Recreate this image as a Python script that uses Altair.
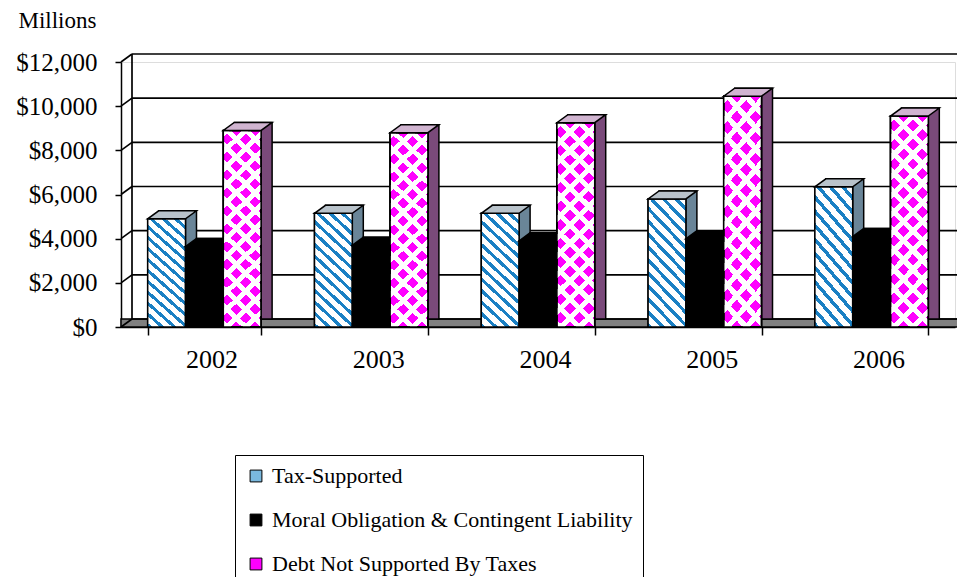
import altair as alt
import pandas as pd

# ---------------- data ----------------
YEARS = ["2002", "2003", "2004", "2005", "2006"]
SERIES = [
    "Tax-Supported",
    "Moral Obligation & Contingent Liability",
    "Debt Not Supported By Taxes",
]
TAX = [4900, 5150, 5150, 5800, 6350]
MORAL = [3650, 3700, 3900, 4000, 4100]
DEBT = [8900, 8800, 9250, 10450, 9550]
Y_TICKS = [0, 2000, 4000, 6000, 8000, 10000, 12000]

rows = []
for i, yr in enumerate(YEARS):
    for name, vals in zip(SERIES, [TAX, MORAL, DEBT]):
        rows.append({"year": yr, "series": name, "value": vals[i]})
df = pd.DataFrame(rows)
ticks_df = pd.DataFrame({"v": Y_TICKS})

# ---------------- layout / style ----------------
W, H = 834, 265
DX, DY = 11, -8
P_IN, P_OUT = 0.32, 0.16
STEP = W / (len(YEARS) - P_IN + 2 * P_OUT)
BW = STEP * (1 - P_IN)
BAR_W = BW / len(SERIES)
SERIF = "Liberation Serif"
BLUE = "#1a80c4"
MAGENTA = "#ff00ff"

# top face (parallelogram) as a custom symbol centred on the bar's top edge
S = 30.0
hw = BAR_W / 2
TOP_PATH = "M {a:.4f} 0 L {b:.4f} 0 L {c:.4f} {d:.4f} L {e:.4f} {d:.4f} Z".format(
    a=-hw / S, b=hw / S, c=(hw + DX) / S, d=DY / S, e=(-hw + DX) / S)
TOP_SIZE = (2 * S) ** 2


def stripe_grad(color_a, color_b, frac, n, ratio, direction):
    k = (ratio + 1) / (ratio ** 2 + 1)
    if direction == "back":
        x1, y1, x2, y2 = 0, 1, ratio * k, 1 - k
    else:
        x1, y1, x2, y2 = 0, 0, ratio * k, k
    stops = []
    for i in range(n):
        a = i / n
        b = (i + frac) / n
        c = (i + 1) / n
        stops += [
            alt.GradientStop(offset=round(a, 5), color=color_a),
            alt.GradientStop(offset=round(b, 5), color=color_a),
            alt.GradientStop(offset=round(b, 5), color=color_b),
            alt.GradientStop(offset=round(c, 5), color=color_b),
        ]
    return alt.LinearGradient(gradient="linear", stops=stops,
                              x1=x1, y1=y1, x2=round(x2, 5), y2=round(y2, 5))


tax_grad = stripe_grad(BLUE, "#ffffff", 0.38, 13, 0.31, "back")
debt_grad1 = stripe_grad("#ffffff", "rgba(255,255,255,0)", 0.38, 13, 0.183, "back")
debt_grad2 = stripe_grad("#ffffff", "rgba(255,255,255,0)", 0.38, 13, 0.183, "fwd")

y_scale = alt.Scale(domain=[0, 12000], nice=False, zero=True)
Y_AXIS = alt.Axis(values=Y_TICKS, format="$,.0f", title="Millions", titleAngle=0,
                  titleAlign="left", titleBaseline="middle", titleX=-103, titleY=-42,
                  titleFont=SERIF, titleFontSize=23, titleFontWeight="normal",
                  titleColor="black", labelFont=SERIF, labelFontSize=25,
                  labelColor="black", labelPadding=18, tickSize=6, tickColor="black",
                  tickWidth=1.5, domainColor="black", domainWidth=1.5, grid=False)


def yq(field):
    return alt.Y(field, type="quantitative", scale=y_scale, axis=Y_AXIS)


x_enc = alt.X(
    "year:N", sort=YEARS,
    scale=alt.Scale(paddingInner=P_IN, paddingOuter=P_OUT),
    axis=alt.Axis(title=None, labelAngle=0, labelFont=SERIF, labelFontSize=26,
                  labelColor="black", labelPadding=11, labelOffset=7, tickBand="extent",
                  tickSize=8, tickColor="black", tickWidth=1.5,
                  domainColor="black", domainWidth=1.5, grid=False),
)


def xo(shift):
    return alt.XOffset("series:N", sort=SERIES,
                       scale=alt.Scale(domain=SERIES, paddingInner=0, paddingOuter=0,
                                       range=[shift, BW + shift]))


# point-type offset scale: positions at the centres of the bar slots
xo_point = alt.XOffset("series:N", sort=SERIES,
                       scale=alt.Scale(type="point", domain=SERIES, padding=0.5,
                                       range=[0, BW]))

color_enc = alt.Color(
    "series:N", sort=SERIES,
    scale=alt.Scale(domain=SERIES, range=["#7ab8de", "#000000", MAGENTA]),
    legend=alt.Legend(title=None, orient="none", legendX=114, legendY=393,
                      direction="vertical", symbolType="square", symbolSize=140,
                      symbolStrokeColor="black", symbolStrokeWidth=1,
                      labelFont=SERIF, labelFontSize=22, labelColor="black",
                      labelLimit=700, rowPadding=22, labelOffset=5, padding=10,
                      labelExpr="datum.label + '\u2003 '",
                      strokeColor="black", fillColor="white"),
)

base = alt.Chart(df)
FRONT = dict(x=x_enc, xOffset=xo(0), y=yq("value"))
BACK = dict(x=x_enc, xOffset=xo(DX), y=yq("value"))
TOPENC = dict(x=x_enc, xOffset=xo_point, y=yq("value"))


def series_layers(name, top_fill, side_fill, overlays):
    b = base.transform_filter(alt.datum.series == name)
    side = b.mark_bar(fill=side_fill, stroke="black", strokeWidth=1.5,
                      yOffset=DY, y2Offset=DY).encode(**BACK)
    front = b.mark_bar(stroke="black", strokeWidth=1.5, opacity=1).encode(**FRONT, color=color_enc)
    pats = [b.mark_bar(fill=g, stroke="black", strokeWidth=1.5).encode(**FRONT) for g in overlays]
    top = b.mark_point(shape=TOP_PATH, size=TOP_SIZE, filled=True, fill=top_fill,
                       stroke="black", strokeWidth=1.5, opacity=1).encode(**TOPENC)
    return [side, front] + pats + [top]


floor = alt.Chart(ticks_df).transform_aggregate(bot="min(v)").mark_rect(
    fill="#808080", stroke="black", strokeWidth=1.5, y2Offset=DY, x2Offset=DX
).encode(x=alt.value(0), x2=alt.value("width"), y=yq("bot"), y2="bot:Q")

grid = alt.Chart(ticks_df).mark_rule(
    stroke="black", strokeWidth=1.7, xOffset=DX, x2Offset=DX, yOffset=DY, y2Offset=DY
).encode(x=alt.value(0), x2=alt.value("width"), y=yq("v"))

back_edge = alt.Chart(ticks_df).transform_aggregate(top="max(v)", bot="min(v)").mark_rule(
    stroke="black", strokeWidth=1.7, yOffset=DY, y2Offset=DY
).encode(x=alt.value(DX), y=yq("top"), y2="bot:Q")

slants = alt.Chart(ticks_df).mark_rule(
    stroke="black", strokeWidth=1.7, y2Offset=DY
).encode(x=alt.value(0), x2=alt.value(DX), y=yq("v"), y2="v:Q")

layers = [floor, grid, back_edge, slants]
layers += series_layers(SERIES[0], "#b9c3cb", "#6a8598", [tax_grad])
layers += series_layers(SERIES[1], "#000000", "#000000", [])
layers += series_layers(SERIES[2], "#d0b4d0", "#7a4a7a", [debt_grad1, debt_grad2])

chart = alt.layer(*layers).resolve_scale(xOffset="independent").properties(
    width=W, height=H,
    padding={"left": 113, "top": 54, "right": 2, "bottom": 250},
    autosize=alt.AutoSizeParams(type="none"),
).configure_view(stroke=None).configure(background="white")

chart.save("out.html", embed_options={"renderer": "svg", "actions": False})
